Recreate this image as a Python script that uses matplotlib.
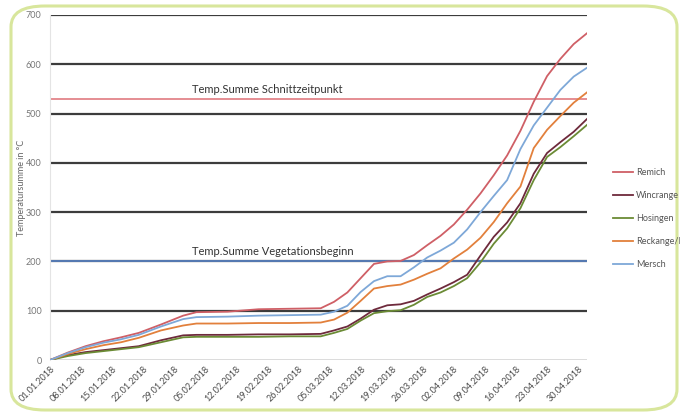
import pandas as pd
import matplotlib
matplotlib.use("Agg")
import matplotlib.pyplot as plt
from matplotlib.patches import FancyBboxPatch

plt.rcParams['font.family'] = ['Lato', 'DejaVu Sans']

# Sample dates of the cumulative temperature sums
dates = ["01.01.2018", "05.01.2018", "09.01.2018", "13.01.2018", "17.01.2018",
         "21.01.2018", "26.01.2018", "31.01.2018", "03.02.2018", "10.02.2018",
         "17.02.2018", "24.02.2018", "03.03.2018", "06.03.2018", "09.03.2018",
         "12.03.2018", "15.03.2018", "18.03.2018", "21.03.2018", "24.03.2018",
         "27.03.2018", "30.03.2018", "02.04.2018", "05.04.2018", "08.04.2018",
         "11.04.2018", "14.04.2018", "17.04.2018", "20.04.2018", "23.04.2018",
         "26.04.2018", "29.04.2018", "02.05.2018"]

remich = [0, 15, 28, 38, 46, 55, 72, 90, 97, 98, 103, 104, 105, 118, 137, 166, 195,
          200, 201, 213, 233, 252, 275, 305, 338, 375, 415, 465, 524, 576, 611, 641, 663]
wincrange = [0, 10, 16, 20, 24, 28, 40, 50, 51, 51, 52, 52, 53, 60, 68, 84, 102,
             111, 113, 120, 133, 145, 158, 173, 212, 250, 279, 318, 378, 420, 442, 463, 489]
hosingen = [0, 8, 14, 18, 22, 26, 36, 46, 47, 47, 47, 48, 48, 55, 63, 80, 95,
            99, 101, 112, 128, 137, 150, 166, 198, 236, 267, 308, 365, 412, 432, 454, 477]
reckange = [0, 12, 22, 30, 36, 45, 60, 70, 74, 74, 75, 75, 76, 82, 96, 120, 145,
            150, 153, 163, 175, 186, 206, 224, 248, 280, 318, 352, 430, 467, 495, 522, 543]
mersch = [0, 14, 26, 35, 42, 51, 68, 83, 87, 88, 90, 91, 92, 98, 110, 138, 160,
          170, 170, 188, 208, 222, 238, 265, 300, 333, 365, 428, 476, 512, 548, 575, 593]

series = [("Remich", remich, "#cf5f66"),
          ("Wincrange", wincrange, "#6e2a3c"),
          ("Hosingen", hosingen, "#6b8b35"),
          ("Reckange/Mess", reckange, "#e2803c"),
          ("Mersch", mersch, "#7ea8d8")]

schnitt = 530
vegetation = 200

x = pd.to_datetime(dates, format="%d.%m.%Y")
ticks = pd.date_range("2018-01-01", "2018-04-30", freq="7D")

fig = plt.figure(figsize=(6.8, 4.16), dpi=100)
ax = fig.add_axes([50 / 680, 1 - 360 / 416, 537 / 680, 345 / 416])

for y in range(100, 701, 100):
    ax.axhline(y, color="#3c3c3c", lw=1.6, zorder=1)
ax.axhline(0, color="#d6d6d6", lw=1.2, zorder=1)

ax.axhline(schnitt, color="#e07a80", lw=1.2, zorder=2)
ax.axhline(vegetation, color="#5b86c9", lw=1.2, zorder=2)
ax.text(pd.Timestamp("2018-02-02"), schnitt + 8, "Temp.Summe Schnittzeitpunkt",
        fontsize=8, color="#333333", va="bottom")
ax.text(pd.Timestamp("2018-02-02"), vegetation + 8, "Temp.Summe Vegetationsbeginn",
        fontsize=8, color="#333333", va="bottom")

for name, vals, col in series:
    ax.plot(x, vals, color=col, lw=1.3, label=name, zorder=3)

ax.set_xlim(x[0], x[-1])
ax.set_ylim(0, 700)
ax.set_yticks(range(0, 701, 100))
ax.set_xticks(ticks)
ax.set_xticklabels([t.strftime("%d.%m.%Y") for t in ticks], rotation=45,
                   ha="right", rotation_mode="anchor", fontsize=6.5, color="#4a4a4a")
ax.tick_params(axis="y", labelsize=6.5, colors="#777777", length=0, pad=6)
ax.tick_params(axis="x", length=0, pad=3)
for s in ["top", "right", "bottom"]:
    ax.spines[s].set_visible(False)
ax.spines["left"].set_color("#e4e4e4")
ax.set_ylabel("Temperatursumme in °C", fontsize=6.5, color="#666666")
ax.yaxis.set_label_coords(-24 / 537, 0.5)

fig.legend(loc="upper left", bbox_to_anchor=(605 / 680, 1 - 160 / 416),
           frameon=False, fontsize=6.5, handlelength=2.2, labelspacing=1.55,
           handletextpad=0.3, labelcolor="#555555")

border = FancyBboxPatch((11 / 680, 6 / 416), 666 / 680, 404 / 416,
                        boxstyle="round,pad=0,rounding_size=0.05",
                        transform=fig.transFigure, fill=False,
                        edgecolor="#d8e69c", lw=2.2, zorder=0)
fig.patches.append(border)

fig.savefig("out.png", dpi=100)
